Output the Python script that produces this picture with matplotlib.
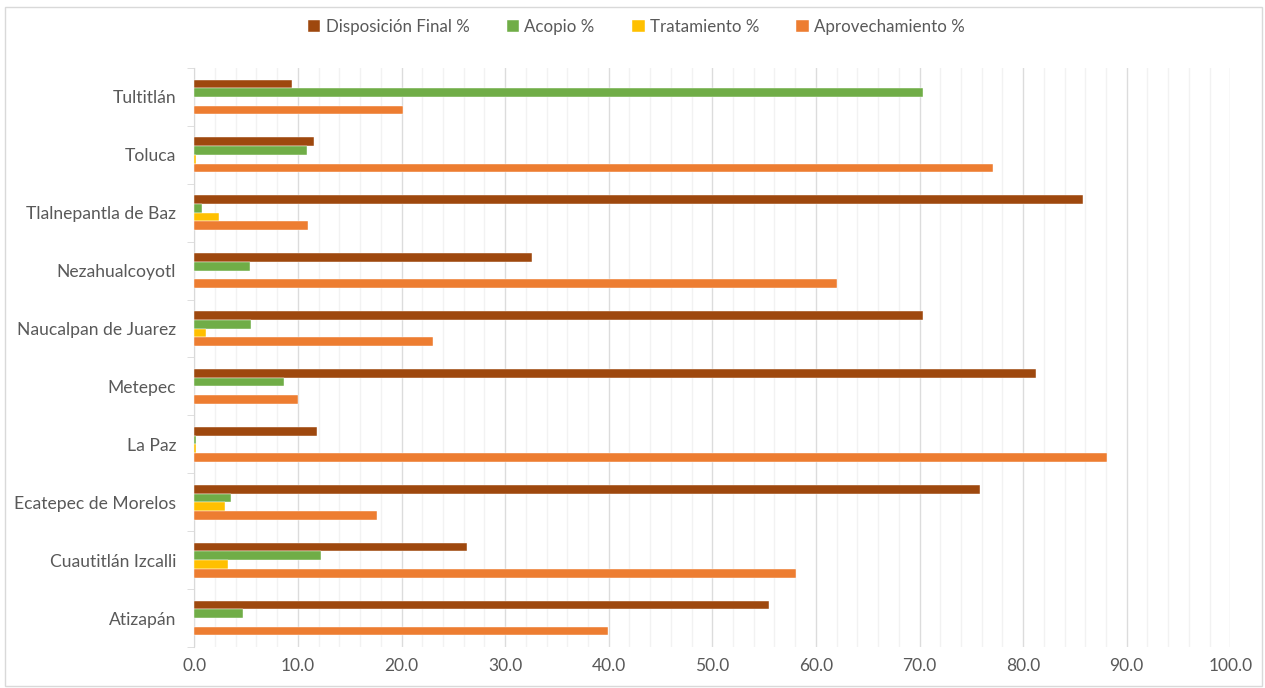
import numpy as np
import matplotlib.pyplot as plt
from matplotlib.patches import Rectangle

plt.rcParams['font.family'] = ['Lato', 'DejaVu Sans']

# categories from bottom to top, as drawn
municipios = ['Atizapán', 'Cuautitlán Izcalli', 'Ecatepec de Morelos', 'La Paz', 'Metepec',
              'Naucalpan de Juarez', 'Nezahualcoyotl', 'Tlalnepantla de Baz', 'Toluca', 'Tultitlán']

disposicion = [55.5, 26.3, 75.8, 11.8, 81.2, 70.3, 32.6, 85.8, 11.6, 9.4]
acopio = [4.7, 12.2, 3.5, 0.15, 8.7, 5.5, 5.4, 0.7, 10.9, 70.3]
tratamiento = [0.0, 3.3, 3.0, 0.15, 0.0, 1.1, 0.0, 2.4, 0.2, 0.0]
aprovechamiento = [39.9, 58.1, 17.6, 88.1, 10.0, 23.0, 62.0, 11.0, 77.1, 20.1]

series = [
    ('Disposición Final %', disposicion, '#9E480E'),
    ('Acopio %', acopio, '#70AD47'),
    ('Tratamiento %', tratamiento, '#FFC000'),
    ('Aprovechamiento %', aprovechamiento, '#ED7D31'),
]

fig = plt.figure(figsize=(12.65, 6.88), dpi=100)
ax = fig.add_axes([0.1536, 0.0596, 0.8190, 0.8416])

y = np.arange(len(municipios))
h = 0.15
offsets = [1.5 * h, 0.5 * h, -0.5 * h, -1.5 * h]
for (name, vals, col), off in zip(series, offsets):
    ax.barh(y + off, vals, height=h, color=col, edgecolor='white', linewidth=0.3, label=name, zorder=3)

ax.set_xlim(0, 100)
ax.set_ylim(-0.5, len(municipios) - 0.5)
ax.set_xticks(np.arange(0, 101, 10))
ax.set_xticklabels([f'{v:.1f}' for v in np.arange(0, 101, 10)])
ax.set_xticks(np.arange(0, 101, 2), minor=True)
ax.set_yticks(y)
ax.set_yticklabels(municipios)
ax.set_yticks(np.arange(-0.5, len(municipios), 1), minor=True)

ax.grid(axis='x', which='major', color='#dcdcdc', linewidth=1, zorder=0)
ax.grid(axis='x', which='minor', color='#f2f2f2', linewidth=1, zorder=0)
ax.set_axisbelow(True)

for s in ['top', 'right', 'bottom']:
    ax.spines[s].set_visible(False)
ax.spines['left'].set_color('#d9d9d9')

ax.tick_params(axis='x', which='both', length=0, pad=8, labelsize=12.5, labelcolor='#595959')
ax.tick_params(axis='y', which='major', length=0, pad=13, labelsize=12.6, labelcolor='#595959')
ax.tick_params(axis='y', which='minor', length=5, color='#d9d9d9')

fig.legend(loc='upper center', bbox_to_anchor=(0.503, 0.995), ncol=4, frameon=False,
           fontsize=12.2, handlelength=0.75, handleheight=0.75, handletextpad=0.3,
           columnspacing=2.2, labelcolor='#595959')

fig.patches.append(Rectangle((5 / 1265, 2 / 688), 1257 / 1265, 679 / 688, transform=fig.transFigure,
                             fill=False, edgecolor='#d9d9d9', linewidth=1))

fig.savefig('out.png', dpi=100)
